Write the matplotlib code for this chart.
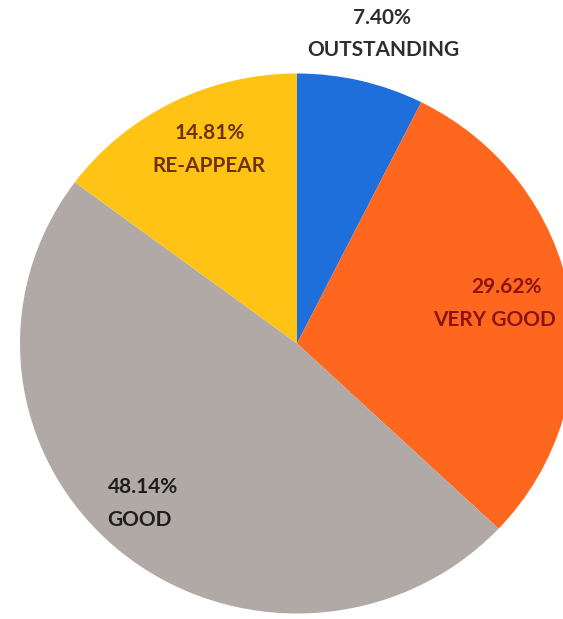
import matplotlib
matplotlib.use("Agg")
import matplotlib.pyplot as plt

categories = ["OUTSTANDING", "VERY GOOD", "GOOD", "RE-APPEAR"]
values = [7.40, 29.62, 48.14, 14.81]
colors = ["#1E6FDC", "#FF661E", "#B1A9A6", "#FEC315"]
text_colors = ["#2E2E2E", "#8A1414", "#1E1E1E", "#6E3208"]
# label line centres in pixels of the reference image: (pct x, pct y, name x, name y)
label_px = [(382, 18, 383, 50), (506, 287, 494, 320), (143, 487, 139, 520), (210, 133, 209, 166)]

W, H = 563, 619
cx, cy = 297, 343.5
rx, ry = 277, 270

fig = plt.figure(figsize=(W / 100, H / 100), dpi=100)
ax = fig.add_axes([0, 0, 1, 1])
ax.pie(values, colors=colors, startangle=90, counterclock=False,
       wedgeprops=dict(linewidth=0))
ax.set_aspect("auto")
ax.set_xlim(-cx / rx, (W - cx) / rx)
ax.set_ylim(-(H - cy) / ry, cy / ry)
ax.axis("off")

def to_data(px, py):
    return (px - cx) / rx, (cy - py) / ry

for cat, val, tc, (x1, y1, x2, y2) in zip(categories, values, text_colors, label_px):
    for s, (px, py) in ((f"{val:.2f}%", (x1, y1)), (cat, (x2, y2))):
        x, y = to_data(px, py)
        ax.text(x, y, s, ha="center", va="center", fontsize=15,
                fontweight="bold", color=tc, family=["Lato", "DejaVu Sans"])

fig.savefig("out.png", dpi=100)
